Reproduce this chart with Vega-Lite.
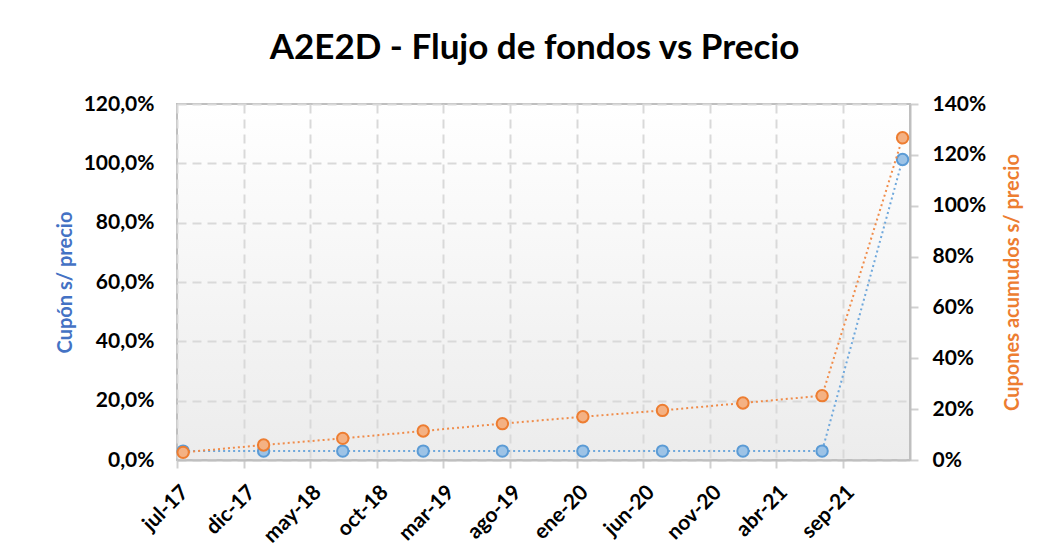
{
  "$schema": "https://vega.github.io/schema/vega-lite/v6.json",
  "width": 733,
  "height": 356,
  "autosize": {"type": "none"},
  "padding": {"left": 177, "top": 104, "right": 133, "bottom": 94},
  "background": "white",
  "title": {
    "text": "A2E2D - Flujo de fondos vs Precio",
    "font": "Lato",
    "fontSize": 35,
    "fontWeight": "bold",
    "color": "#000000",
    "offset": 27,
    "dx": -9
  },
  "config": {
    "view": {
      "fill": {"gradient": "linear", "x1": 0, "y1": 0, "x2": 0, "y2": 1, "stops": [{"offset": 0, "color": "#ffffff"}, {"offset": 1, "color": "#ececec"}]},
      "stroke": "#bfbfbf",
      "strokeWidth": 2
    },
    "axis": {
      "labelFont": "Lato",
      "labelFontWeight": "bold",
      "labelFontSize": 21,
      "labelColor": "#000000",
      "titleFont": "Lato",
      "titleFontWeight": "bold",
      "titleFontSize": 20,
      "gridColor": "#d9d9d9",
      "gridWidth": 2,
      "gridDash": [9, 6]
    }
  },
  "data": {
    "values": [
      {"fecha": "2017-07-15", "cupon": 0.030, "acumulado": 0.030},
      {"fecha": "2018-01-15", "cupon": 0.030, "acumulado": 0.059},
      {"fecha": "2018-07-15", "cupon": 0.030, "acumulado": 0.085},
      {"fecha": "2019-01-15", "cupon": 0.030, "acumulado": 0.114},
      {"fecha": "2019-07-15", "cupon": 0.030, "acumulado": 0.143},
      {"fecha": "2020-01-15", "cupon": 0.030, "acumulado": 0.170},
      {"fecha": "2020-07-15", "cupon": 0.030, "acumulado": 0.195},
      {"fecha": "2021-01-15", "cupon": 0.030, "acumulado": 0.224},
      {"fecha": "2021-07-15", "cupon": 0.030, "acumulado": 0.253},
      {"fecha": "2022-01-15", "cupon": 1.013, "acumulado": 1.267}
    ]
  },
  "encoding": {
    "x": {
      "field": "fecha",
      "type": "temporal",
      "title": null,
      "scale": {
        "type": "utc",
        "domain": [{"year": 2017, "month": 7, "date": 1, "utc": true}, {"year": 2022, "month": 2, "date": 1, "utc": true}]
      },
      "axis": {
        "values": [
          {"year": 2017, "month": 7, "date": 1, "utc": true},
          {"year": 2017, "month": 12, "date": 1, "utc": true},
          {"year": 2018, "month": 5, "date": 1, "utc": true},
          {"year": 2018, "month": 10, "date": 1, "utc": true},
          {"year": 2019, "month": 3, "date": 1, "utc": true},
          {"year": 2019, "month": 8, "date": 1, "utc": true},
          {"year": 2020, "month": 1, "date": 1, "utc": true},
          {"year": 2020, "month": 6, "date": 1, "utc": true},
          {"year": 2020, "month": 11, "date": 1, "utc": true},
          {"year": 2021, "month": 4, "date": 1, "utc": true},
          {"year": 2021, "month": 9, "date": 1, "utc": true}
        ],
        "labelExpr": "['ene','feb','mar','abr','may','jun','jul','ago','sep','oct','nov','dic'][utcmonth(datum.value)] + '-' + utcFormat(datum.value, '%y')",
        "labelAngle": -45,
        "labelFontSize": 21,
        "labelPadding": 13,
        "grid": true,
        "domainColor": "#bfbfbf",
        "domainWidth": 2,
        "tickColor": "#d0d0d0",
        "tickWidth": 2,
        "tickSize": 8,
        "labelOverlap": false
      }
    }
  },
  "layer": [
    {
      "mark": {
        "type": "line",
        "color": "#6FA8DC",
        "strokeWidth": 2,
        "strokeDash": [2, 3],
        "point": {"filled": true, "fill": "#9DC3E6", "stroke": "#5B9BD5", "strokeWidth": 2, "size": 130, "opacity": 1}
      },
      "encoding": {
        "y": {
          "field": "cupon",
          "type": "quantitative",
          "title": "Cupón s/ precio",
          "scale": {"domain": [0, 1.2], "nice": false},
          "axis": {
            "orient": "left",
            "values": [0, 0.2, 0.4, 0.6, 0.8, 1.0, 1.2],
            "labelExpr": "replace(format(datum.value, '.1%'), '.', ',')",
            "grid": true,
            "domain": false,
            "ticks": false,
            "labelPadding": 23,
            "titleColor": "#4472C4",
            "titlePadding": 8
          }
        }
      }
    },
    {
      "mark": {
        "type": "line",
        "color": "#F08C4A",
        "strokeWidth": 2,
        "strokeDash": [2, 3],
        "point": {"filled": true, "fill": "#F4B183", "stroke": "#ED7D31", "strokeWidth": 2, "size": 130, "opacity": 1}
      },
      "encoding": {
        "y": {
          "field": "acumulado",
          "type": "quantitative",
          "title": "Cupones acumudos s/ precio",
          "scale": {"domain": [0, 1.4], "nice": false},
          "axis": {
            "orient": "right",
            "values": [0, 0.2, 0.4, 0.6, 0.8, 1.0, 1.2, 1.4],
            "format": ".0%",
            "grid": false,
            "domainColor": "#bfbfbf",
            "domainWidth": 2,
            "tickColor": "#d0d0d0",
            "tickWidth": 2,
            "tickSize": 8,
            "labelPadding": 14,
            "titleColor": "#ED7D31",
            "titleAngle": 270,
            "titlePadding": 37
          }
        }
      }
    }
  ],
  "resolve": {"scale": {"y": "independent"}}
}
